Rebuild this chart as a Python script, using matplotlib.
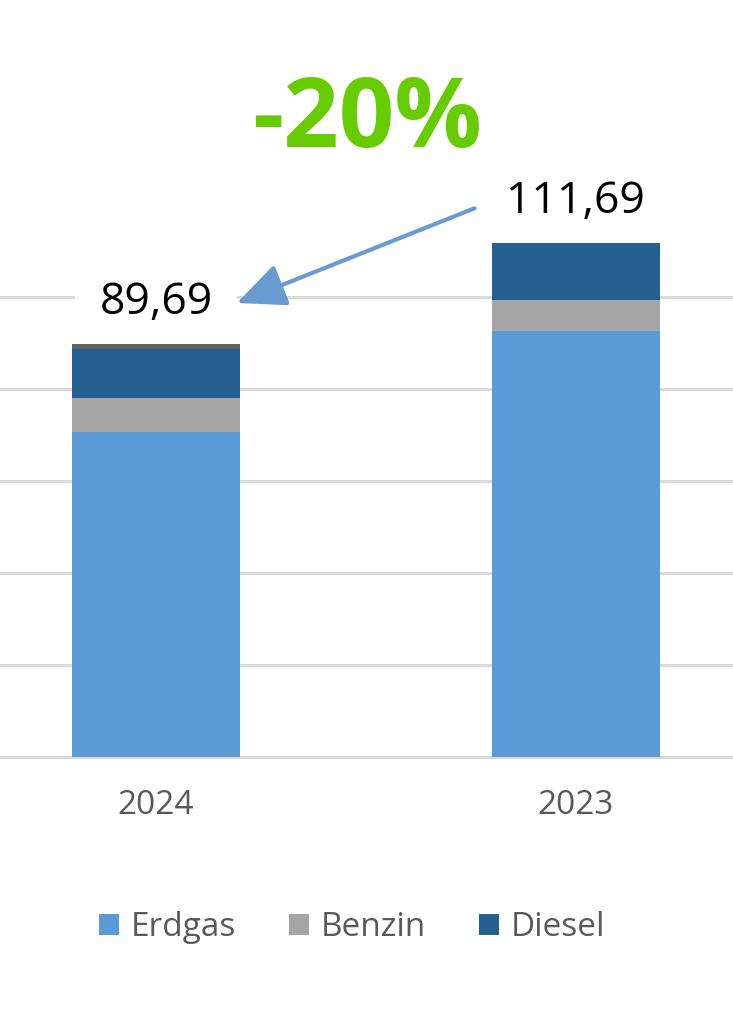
import matplotlib
matplotlib.use('Agg')
import matplotlib.pyplot as plt
import numpy as np

plt.rcParams['font.family'] = ['Open Sans', 'DejaVu Sans']

years = ['2024', '2023']
erdgas = [70.73, 92.57]
benzin = [7.23, 6.67]
diesel = [10.64, 12.45]
sonstige = [1.09, 0.0]
totals = ['89,69', '111,69']
change_label = '-20%'

fig = plt.figure(figsize=(7.33, 10.27), dpi=100)
ax = fig.add_axes([0, 1 - 757 / 1027, 1, 552 / 1027])

x = np.arange(len(years))
w = 0.4
ax.bar(x, erdgas, w, color='#5B9BD5', label='Erdgas', zorder=3, lw=0)
ax.bar(x, benzin, w, bottom=erdgas, color='#A5A5A5', label='Benzin', zorder=3, lw=0)
b2 = np.array(erdgas) + np.array(benzin)
ax.bar(x, diesel, w, bottom=b2, color='#255E91', label='Diesel', zorder=3, lw=0)
b3 = b2 + np.array(diesel)
ax.bar(x, sonstige, w, bottom=b3, color='#636363', zorder=3, lw=0)
tops = b3 + np.array(sonstige)

ax.set_xlim(-156 / 420, 1 + (733 - 575.5) / 420)
ax.set_ylim(0, 120)
ax.set_yticks([0, 20, 40, 60, 80, 100])
ax.yaxis.grid(True, color='#D9D9D9', lw=2.2, zorder=0)
ax.axhline(0, color='#D9D9D9', lw=2.2, zorder=1, clip_on=False)
ax.tick_params(axis='y', length=0, labelleft=False)
ax.set_xticks(x)
ax.set_xticklabels(years, fontsize=24, color='#595959')
ax.tick_params(axis='x', length=0, pad=23)
for s in ax.spines.values():
    s.set_visible(False)

# total labels
for i in range(len(years)):
    ax.annotate(totals[i], (x[i], tops[i]), xytext=(0, 30), textcoords='offset points',
                ha='center', va='center', fontsize=32, color='black', zorder=2,
                bbox=dict(boxstyle='square,pad=0.55', fc='white', ec='none'))

# arrow from 2023 label to 2024 label
ax.annotate('', xy=(0.193, 98.7), xytext=(0.7595, 119.3),
            arrowprops=dict(arrowstyle='-|>,head_length=1.0,head_width=0.45', lw=3,
                            color='#699BD0', mutation_scale=30, shrinkA=0, shrinkB=0),
            zorder=6, annotation_clip=False)

fig.text(367 / 733, 1 - 122 / 1027, change_label, fontsize=70, fontweight='bold',
         color='#66CC00', ha='center', va='center')

handles, labels = ax.get_legend_handles_labels()
fig.legend(handles, labels, loc='center', bbox_to_anchor=(352 / 733, 1 - 928 / 1027),
           ncol=3, frameon=False, fontsize=24, labelcolor='#595959',
           handlelength=0.6, handleheight=0.6, handletextpad=0.35, columnspacing=1.6)

fig.savefig('out.png', dpi=100)
